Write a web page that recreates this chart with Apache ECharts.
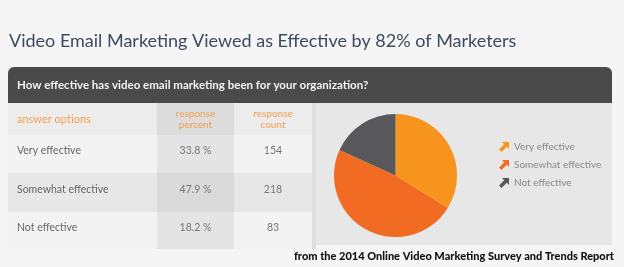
<!DOCTYPE html>
<html><head><meta charset="utf-8">
<script src="https://cdn.jsdelivr.net/npm/echarts@6/dist/echarts.min.js"></script>
<style>html,body{margin:0;padding:0;background:#f5f5f5}#c{width:624px;height:267px}</style>
</head><body><div id="c"></div>
<script>
const titleText = 'Video Email Marketing Viewed as Effective by 82% of Marketers';
const question = 'How effective has video email marketing been for your organization?';
const headers = ['answer options', 'response\npercent', 'response\ncount'];
const categories = ['Very effective', 'Somewhat effective', 'Not effective'];
const percents = [33.8, 47.9, 18.2];
const counts = [154, 218, 83];
const source = 'from the 2014 Online Video Marketing Survey and Trends Report';
const colors = ['#f7941d', '#f26b22', '#58585a'];

const chart = echarts.init(document.getElementById('c'));
const F = 'Lato, "Open Sans", sans-serif';
const g = [];
// layout constants
const L = 8, R = 612, barTop = 67, barBot = 103;
const colX = [8, 157, 234, 312];
const rowY = [103, 135, 173, 212, 249];
const panelX = 316;
g.push({type:'rect', shape:{x:L, y:barTop, width:R-L, height:barBot-barTop, r:[6,6,0,0]}, style:{fill:'#4a4a4a'}});
g.push({type:'text', x:17, y:(barTop+barBot)/2, style:{text:question, fill:'#f2f2f2', font:'bold 11.5px '+F, verticalAlign:'middle'}});
// table rows
const rowFill = ['#ececec', '#f3f3f3', '#e7e7e7', '#f3f3f3'];
const colFill = ['#dcdcdc', '#e4e4e4', '#dadada', '#e4e4e4'];
for (let r = 0; r < 4; r++) {
  g.push({type:'rect', shape:{x:colX[0], y:rowY[r], width:colX[3]-colX[0], height:rowY[r+1]-rowY[r]}, style:{fill:rowFill[r]}});
  g.push({type:'rect', shape:{x:colX[1], y:rowY[r], width:colX[2]-colX[1], height:rowY[r+1]-rowY[r]}, style:{fill:colFill[r]}});
}
g.push({type:'rect', shape:{x:colX[3], y:barBot, width:panelX-colX[3], height:rowY[4]-barBot}, style:{fill:'#dedede'}});
g.push({type:'rect', shape:{x:panelX, y:barBot, width:R-panelX, height:245-barBot}, style:{fill:'#e7e7e7'}});
// headers
const hy = (rowY[0]+rowY[1])/2;
g.push({type:'text', x:17, y:hy, style:{text:headers[0], fill:'#f5a04e', font:'11px '+F, verticalAlign:'middle'}});
g.push({type:'text', x:(colX[1]+colX[2])/2, y:hy, style:{text:headers[1], fill:'#f5a04e', font:'10px '+F, align:'center', verticalAlign:'middle', lineHeight:11}});
g.push({type:'text', x:(colX[2]+colX[3])/2, y:hy, style:{text:headers[2], fill:'#f5a04e', font:'10px '+F, align:'center', verticalAlign:'middle', lineHeight:11}});
categories.forEach((c, i) => {
  const y = (rowY[i+1]+rowY[i+2])/2 - 3;
  g.push({type:'text', x:17, y:y, style:{text:c, fill:'#666', font:'10.5px '+F, verticalAlign:'middle'}});
  g.push({type:'text', x:(colX[1]+colX[2])/2, y:y, style:{text:percents[i].toFixed(1)+' %', fill:'#777', font:'10.5px '+F, align:'center', verticalAlign:'middle'}});
  g.push({type:'text', x:(colX[2]+colX[3])/2, y:y, style:{text:String(counts[i]), fill:'#777', font:'10.5px '+F, align:'center', verticalAlign:'middle'}});
});
g.push({type:'text', x:614, y:256, style:{text:source, fill:'#111', font:'900 11px '+F, align:'right', verticalAlign:'middle'}});

const arrow = 'path://M3,0 L10,0 L10,7 L7.8,4.8 L2.5,10 L0,7.5 L5.2,2.2 Z';

chart.setOption({
  backgroundColor:'#f5f5f5',
  title:{text:titleText, left:4, top:27, textStyle:{fontFamily:F, fontWeight:'normal', fontSize:18, color:'#3c4a60'}},
  graphic: g,
  legend:{orient:'vertical', left:494, top:137, itemWidth:10, itemHeight:10, itemGap:8, icon:arrow,
    textStyle:{color:'#888', fontSize:10, fontFamily:F}, data:categories},
  series:[{type:'pie', center:[395.5,175.5], radius:[0,61.5], startAngle:90, clockwise:true,
    label:{show:false}, labelLine:{show:false}, silent:true, z:5,
    data: categories.map((c,i)=>({name:c, value:percents[i], itemStyle:{color:colors[i]}}))}]
});
</script></body></html>
